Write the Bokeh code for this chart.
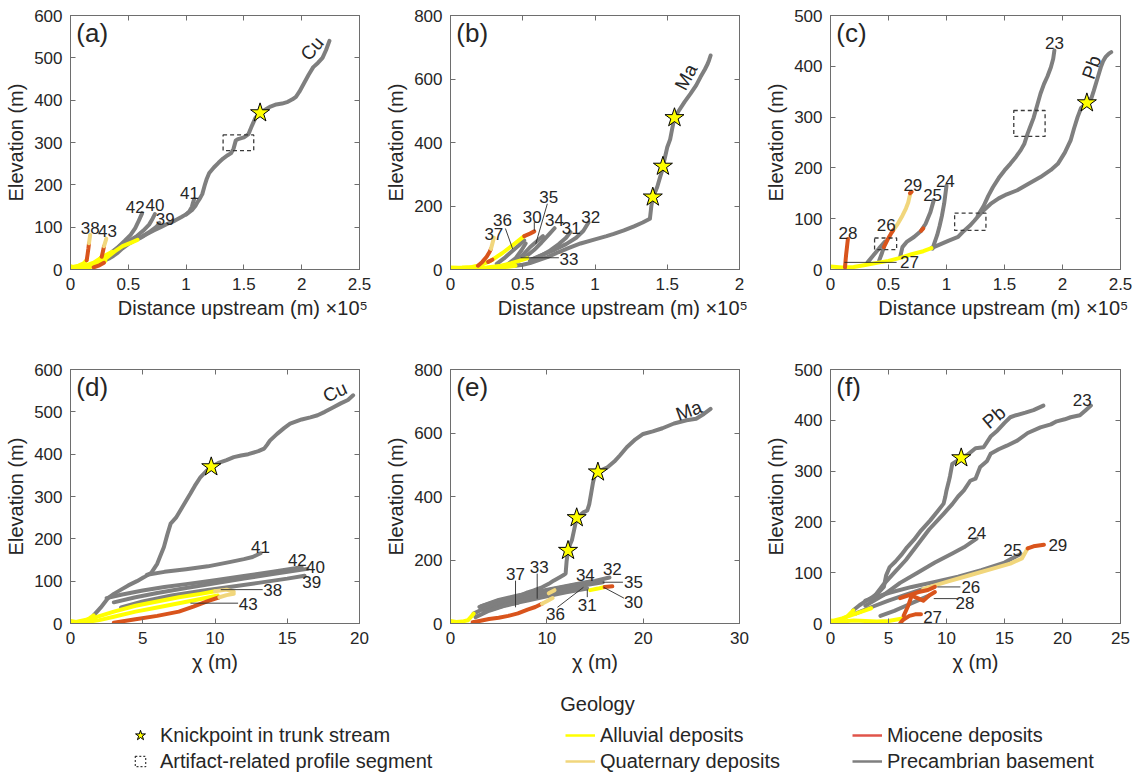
from bokeh.plotting import figure
from bokeh.layouts import column, row
from bokeh.models import (Range1d, LinearAxis, FixedTicker, Label, Legend, LegendItem,
                          CustomJSTickFormatter, ColumnDataSource)
from bokeh.embed import file_html
from bokeh.resources import INLINE

FONT = "Liberation Sans"
C_PRE = "#7f7f7f"
C_ALLU = "#ffff00"
C_QUAT = "#f1d67c"
C_MIO = "#d9541c"
AXC = "#6e6e6e"
TXT = "#262626"

# ---------------- Panel (a): distance (x 1e5 m) ----------------
A_CU_X = [0.30,0.34,0.37,0.41,0.45,0.50,0.55,0.60,0.65,0.72,0.78,0.84,0.90,0.96,1.01,1.05,1.08,1.10,1.12,1.14,1.16,1.18,1.20,1.24,1.28,1.32,1.36,1.39,1.41,1.43,1.45,1.50,1.54,1.57,1.60,1.64,1.68,1.73,1.78,1.83,1.88,1.92,1.95,1.98,2.02,2.06,2.10,2.14,2.18,2.21,2.24]
A_CU_Y = [22,27,32,40,50,60,68,74,82,92,100,108,115,124,132,140,150,160,168,178,198,215,228,241,252,262,270,275,285,305,308,312,320,340,358,370,377,385,390,392,396,402,408,420,440,460,478,488,500,518,540]
A_CU_AL_X = [0.00,0.04,0.08,0.13,0.18,0.23,0.27,0.30]
A_CU_AL_Y = [8,4,3,4,8,12,17,22]
A_42_X = [0.36,0.42,0.47,0.52,0.56,0.59,0.62]
A_42_Y = [42,55,68,82,98,115,133]
A_40_X = [0.42,0.50,0.57,0.63,0.68,0.71,0.73]
A_40_Y = [55,67,78,92,106,120,131]
A_39_X = [0.45,0.54,0.62,0.69,0.74,0.77]
A_39_Y = [58,68,78,90,100,110]
A_41_X = [1.00,1.03,1.05,1.06,1.07]
A_41_Y = [130,138,148,158,166]
A_38_AL_X = [0.02,0.07,0.11,0.14]
A_38_AL_Y = [6,9,14,22]
A_38_MI_X = [0.14,0.148,0.155,0.16]
A_38_MI_Y = [22,36,50,62]
A_38_QU_X = [0.16,0.165,0.17]
A_38_QU_Y = [62,72,82]
A_43_AL_X = [0.10,0.17,0.23,0.27]
A_43_AL_Y = [3,8,18,30]
A_43_MI_X = [0.27,0.28,0.29]
A_43_MI_Y = [30,42,55]
A_43_QU_X = [0.29,0.30,0.31]
A_43_QU_Y = [55,64,73]
A_T1_AL_X = [0.00,0.10,0.20,0.28,0.36]
A_T1_AL_Y = [3,6,16,30,42]
A_T2_AL_X = [0.12,0.22,0.30,0.38,0.45,0.52,0.58]
A_T2_AL_Y = [2,10,25,42,55,63,70]
A_T3_AL_X = [0.05,0.15,0.22,0.30]
A_T3_AL_Y = [2,5,12,20]
A_T4_MI_X = [0.20,0.25,0.29]
A_T4_MI_Y = [5,10,16]
A_STAR_X = [1.64]
A_STAR_Y = [370]
A_BOX_L = [1.32]; A_BOX_R = [1.585]; A_BOX_B = [281]; A_BOX_T = [318]
A_LAB = ["41", "42", "40", "39", "38", "43"]
A_LAB_X = [1.03, 0.56, 0.73, 0.82, 0.17, 0.32]
A_LAB_Y = [180, 147, 153, 120, 98, 92]

# ---------------- Panel (b) ----------------
B_MA_X = [0.45,0.50,0.55,0.60,0.67,0.75,0.82,0.90,1.00,1.08,1.13,1.20,1.27,1.33,1.38,1.39,1.40,1.42,1.43,1.45,1.465,1.47,1.48,1.50,1.52,1.535,1.55,1.58,1.62,1.66,1.70,1.73,1.76,1.78,1.79,1.80]
B_MA_Y = [12,15,20,28,39,55,68,82,95,105,112,123,136,148,160,200,228,248,259,290,312,325,345,385,410,445,478,500,528,553,580,606,630,648,660,674]
B_MA_AL_X = [0.00,0.08,0.16,0.25,0.33,0.40,0.45]
B_MA_AL_Y = [6,4,3,4,6,9,12]
B_32_X = [0.55,0.63,0.72,0.80,0.87,0.92,0.955]
B_32_Y = [30,45,62,80,100,122,148]
B_31_X = [0.55,0.62,0.69,0.75,0.80,0.83]
B_31_Y = [28,42,60,80,100,118]
B_34_X = [0.45,0.52,0.58,0.63,0.68,0.72]
B_34_Y = [22,40,62,85,110,130]
B_35_X = [0.44,0.50,0.55,0.60,0.64]
B_35_Y = [20,45,70,90,105]
B_33_X = [0.40,0.45,0.49,0.52]
B_33_Y = [18,35,60,82]
B_36_X = [0.32,0.37,0.42,0.47,0.51]
B_36_Y = [18,35,55,75,92]
B_30_AL_X = [0.12,0.20,0.28,0.36,0.44,0.51]
B_30_AL_Y = [4,12,28,52,80,105]
B_30_MI_X = [0.51,0.55,0.58]
B_30_MI_Y = [105,113,120]
B_30_MI2_X = [0.26,0.29]
B_30_MI2_Y = [24,31]
B_37_AL_X = [0.00,0.08,0.15,0.19]
B_37_AL_Y = [5,6,8,12]
B_37_MI_X = [0.19,0.22,0.25,0.27,0.28]
B_37_MI_Y = [12,24,40,55,65]
B_37_QU_X = [0.28,0.29,0.30]
B_37_QU_Y = [65,82,100]
B_LO_AL_X = [0.15,0.25,0.35,0.42,0.48,0.53]
B_LO_AL_Y = [3,6,12,20,28,35]
B_STAR_X = [1.40, 1.47, 1.55]
B_STAR_Y = [228, 325, 478]
B_LEAD_X = [[0.38, 0.43], [0.67, 0.59], [0.58, 0.58], [0.485, 0.75]]
B_LEAD_Y = [[129, 65], [207, 81], [149, 122], [37, 37]]
B_LAB = ["35", "36", "30", "34", "31", "32", "37", "33"]
B_LAB_X = [0.68, 0.36, 0.565, 0.72, 0.835, 0.97, 0.30, 0.82]
B_LAB_Y = [228, 155, 165, 156, 131, 165, 112, 34]

# ---------------- Panel (c) ----------------
C_PB_X = [0.87,0.95,1.02,1.10,1.15,1.20,1.24,1.30,1.38,1.45,1.52,1.61,1.70,1.81,1.90,1.96,2.02,2.07,2.10,2.13,2.16,2.21,2.25,2.27,2.30,2.33,2.35,2.37,2.40,2.42]
C_PB_Y = [42,50,57,64,76,86,96,112,129,140,148,156,168,182,196,208,230,254,278,300,318,328,338,352,375,398,410,418,425,428]
C_PB_AL_X = [0.00,0.10,0.20,0.30,0.40,0.50,0.60,0.70,0.80,0.87]
C_PB_AL_Y = [6,4,5,9,13,17,23,30,36,42]
C_23_X = [1.27,1.32,1.36,1.40,1.45,1.50,1.55,1.60,1.64,1.67,1.70,1.72,1.75,1.78,1.81,1.84,1.87,1.90,1.92,1.93]
C_23_Y = [106,125,145,162,180,195,208,222,235,247,268,280,298,322,346,365,380,398,415,431]
C_24_X = [0.88,0.90,0.92,0.94,0.96,0.98,1.00]
C_24_Y = [41,55,68,85,105,130,165]
C_25_X = [0.60,0.62,0.66,0.72,0.78,0.82,0.86,0.89]
C_25_Y = [24,44,55,64,76,90,112,136]
C_25_MI_X = [0.78,0.80]
C_25_MI_Y = [76,81]
C_26_X = [0.42,0.44,0.46]
C_26_Y = [18,30,44]
C_26_MI_X = [0.46,0.49,0.52,0.54]
C_26_MI_Y = [44,58,70,77]
C_26B_X = [0.32,0.37,0.42,0.47]
C_26B_Y = [14,28,42,55]
C_29_QU_X = [0.54,0.58,0.62,0.65,0.67,0.68,0.69]
C_29_QU_Y = [77,90,106,120,132,142,150]
C_29_MI_X = [0.685,0.70]
C_29_MI_Y = [150,153]
C_28_MI_X = [0.125,0.13,0.135,0.14,0.145,0.15]
C_28_MI_Y = [4,18,30,40,50,60]
C_STAR_X = [2.21]
C_STAR_Y = [328]
C_BOX_L = [1.58, 1.07, 0.38]
C_BOX_R = [1.85, 1.34, 0.57]
C_BOX_B = [262, 77, 39]
C_BOX_T = [313, 111, 62]
C_LEAD_X = [[0.12, 0.57]]
C_LEAD_Y = [[14, 14]]
C_LAB = ["23", "24", "25", "29", "26", "28", "27"]
C_LAB_X = [1.93, 0.99, 0.88, 0.71, 0.48, 0.15, 0.68]
C_LAB_Y = [446, 175, 146, 167, 87, 72, 14]

# ---------------- Panel (d): chi ----------------
D_CU_X = [1.6,2.1,2.6,3.0,3.5,4.0,4.6,5.07,5.6,6.0,6.2,6.46,6.7,6.93,7.3,7.6,8.0,8.3,8.6,9.0,9.4,9.74,10.3,10.8,11.3,11.8,12.3,13.0,13.4,13.6,13.8,14.3,14.8,15.2,16.0,16.6,17.1,17.6,18.2,18.7,19.2,19.56]
D_CU_Y = [19,38,60,70,80,90,100,109,120,141,158,180,210,236,250,267,290,307,325,346,360,370,380,386,393,397,400,407,413,422,432,448,462,472,482,487,492,500,511,520,528,539]
D_CU_AL_X = [0.0,0.5,1.0,1.3,1.6]
D_CU_AL_Y = [6,3,6,12,19]
D_41_X = [5.3,6.5,8.0,9.5,11.0,12.0,12.6,13.15]
D_41_Y = [115,122,128,135,145,152,157,166]
D_42_X = [2.5,3.5,5.0,6.5,8.0,10.0,12.0,14.0,16.0]
D_42_Y = [60,68,78,86,93,102,112,122,133]
D_40_X = [3.0,4.5,6.0,8.0,10.0,12.0,14.0,16.4]
D_40_Y = [50,62,72,84,95,106,117,129]
D_39_X = [3.5,5.0,7.0,9.0,11.0,13.0,15.0,16.2]
D_39_Y = [38,52,66,77,86,96,106,113]
D_38_AL_X = [0.3,1.5,3.0,4.5,6.0,7.5,9.0,10.0]
D_38_AL_Y = [3,12,28,42,52,62,70,76]
D_38_QU_X = [10.0,10.8,11.3]
D_38_QU_Y = [76,80,75]
D_43_MI_X = [3.0,4.5,6.0,7.5,8.5,9.5,10.3]
D_43_MI_Y = [2,10,18,28,40,53,62]
D_43_QU_X = [10.3,10.8,11.3]
D_43_QU_Y = [62,67,70]
D_AL2_X = [1.0,2.0,3.0,4.5,6.0,7.5,9.0,10.2]
D_AL2_Y = [3,8,16,28,38,48,58,66]
D_STAR_X = [9.74]
D_STAR_Y = [370]
D_LEAD_X = [[10.4, 13.3], [8.3, 11.6]]
D_LEAD_Y = [[80, 80], [48, 48]]
D_LAB = ["41", "42", "40", "39", "38", "43"]
D_LAB_X = [13.15, 15.7, 16.95, 16.7, 14.0, 12.3]
D_LAB_Y = [180, 149, 133, 98, 78, 45]

# ---------------- Panel (e) ----------------
E_MA_X = [2.4,3.0,3.8,4.5,5.0,5.8,6.6,7.4,8.0,8.65,9.5,10.2,10.7,11.3,11.7,11.95,12.05,12.2,12.4,12.6,12.8,13.1,13.4,13.8,14.2,14.4,14.6,14.8,15.0,15.3,15.8,16.3,17.0,17.6,18.3,19.2,20.0,21.0,22.0,23.2,24.5,25.5,26.3,27.0]
E_MA_Y = [31,40,51,60,68,75,83,90,98,104,114,125,135,145,152,157,195,230,248,262,290,333,340,350,356,375,410,445,470,477,485,492,510,530,555,580,597,605,615,630,640,645,660,676]
E_MA_AL_X = [0.0,0.6,1.2,1.8,2.1,2.4]
E_MA_AL_Y = [8,5,6,10,20,31]
E_32_X = [3.0,5.0,7.0,9.0,11.0,13.0,15.0,16.5]
E_32_Y = [52,72,86,98,110,122,134,145]
E_34_X = [3.2,5.0,7.0,9.0,11.0,13.0,14.5]
E_34_Y = [55,74,88,100,112,124,132]
E_35_X = [3.5,5.5,8.0,10.5,13.0,15.8]
E_35_Y = [45,68,86,102,116,130]
E_33_X = [3.5,5.5,7.5,9.0,11.0,13.0]
E_33_Y = [38,58,74,82,96,110]
E_31_X = [4.0,6.0,8.0,10.0,12.0,14.2]
E_31_Y = [42,60,72,86,98,110]
E_36_X = [4.5,6.5,8.5,10.5,12.5,14.0]
E_36_Y = [48,66,80,94,106,116]
E_37_X = [2.6,4.0,5.5,7.0]
E_37_Y = [20,40,55,65]
E_RED_X = [2.3,3.0,4.0,5.0,6.0,7.0,8.0,8.8,9.5]
E_RED_Y = [4,8,14,18,24,32,44,52,62]
E_QU_X = [9.5,10.0,10.6]
E_QU_Y = [62,70,80]
E_QU2_X = [10.2,10.8]
E_QU2_Y = [95,105]
E_30_AL_X = [14.5,15.3,16.0]
E_30_AL_Y = [105,110,115]
E_30_MI_X = [16.0,16.8]
E_30_MI_Y = [115,117]
E_STAR_X = [12.2, 13.1, 15.3]
E_STAR_Y = [230, 333, 477]
E_LEAD_X = [[6.75, 6.75], [9.0, 9.0], [15.8, 17.9], [11.1, 13.8], [14.2, 14.2], [15.9, 18.0]]
E_LEAD_Y = [[135, 51], [157, 78], [130, 130], [51, 114], [83, 107], [114, 80]]
E_LAB = ["37", "33", "34", "32", "35", "36", "31", "30"]
E_LAB_X = [6.75, 9.2, 14.0, 16.8, 19.0, 10.9, 14.2, 19.0]
E_LAB_Y = [157, 178, 153, 172, 130, 30, 57, 67]

# ---------------- Panel (f) ----------------
F_PB_X = [1.96,2.5,3.1,3.6,4.1,4.6,4.8,5.1,5.6,6.1,6.6,7.2,7.8,8.6,9.2,9.75,9.9,10.0,10.2,10.3,10.5,10.9,11.27,11.8,12.5,13.2,13.8,14.4,15.0,15.5,16.0,16.8,17.5,18.35]
F_PB_Y = [26,36,45,52,60,72,95,111,122,135,150,165,183,203,220,236,250,262,280,290,314,320,326,332,345,347,368,380,395,406,410,415,420,429]
F_23_X = [3.5,4.5,5.5,6.5,7.5,8.5,9.75,10.5,11.0,11.5,12.05,12.5,12.9,13.5,13.8,14.5,15.2,16.1,17.0,18.1,19.0,19.5,20.2,20.7,21.5,22.0,22.45]
F_23_Y = [45,75,100,125,155,185,216,235,250,262,281,285,308,320,334,343,350,360,375,386,392,398,402,406,410,420,429]
F_PB_AL_X = [0.0,0.5,1.0,1.5,1.96]
F_PB_AL_Y = [6,4,8,15,26]
F_24_X = [3.0,4.5,6.0,7.5,9.0,10.5,11.5,12.6]
F_24_Y = [35,55,80,100,120,138,150,167]
F_25_X = [3.0,5.0,7.0,9.0,11.0,13.0,15.0,16.4]
F_25_Y = [45,60,72,82,92,105,120,137]
F_29_PR_X = [2.2,3.5,5.0,6.5,8.0]
F_29_PR_Y = [20,32,45,57,68]
F_29_QU_X = [8.0,10.0,12.0,14.0,15.5,16.5,17.0]
F_29_QU_Y = [68,82,95,108,118,128,148]
F_29_MI_X = [17.0,17.5,18.4]
F_29_MI_Y = [148,152,155]
F_26_MI_X = [6.0,6.8,7.6,8.4,9.0]
F_26_MI_Y = [50,56,62,66,72]
F_28_MI_X = [6.3,6.7,7.0,7.5,8.0,8.5,9.0]
F_28_MI_Y = [15,35,55,50,45,55,62]
F_27_MI_X = [6.3,6.8,7.3,7.8]
F_27_MI_Y = [8,15,18,18]
F_28_PR_X = [4.3,5.5,6.5,7.5,8.5]
F_28_PR_Y = [15,25,35,45,55]
F_AL2_X = [0.0,1.0,2.0,3.0,4.0,5.0,6.2]
F_AL2_Y = [2,4,6,5,4,5,10]
F_AL3_X = [0.0,1.0,2.0,3.0,3.5]
F_AL3_Y = [4,10,18,26,30]
F_MI0_X = [6.0,6.2]
F_MI0_Y = [0,6]
F_STAR_X = [11.27]
F_STAR_Y = [326]
F_LEAD_X = [[9.2, 11.2], [8.9, 10.9]]
F_LEAD_Y = [[72, 72], [49, 49]]
F_LAB = ["23", "24", "25", "29", "26", "28", "27"]
F_LAB_X = [21.7, 12.6, 15.7, 19.6, 12.1, 11.6, 8.8]
F_LAB_Y = [440, 178, 145, 155, 72, 40, 12]

TICK_FS = "17px"
LAB_FS = "20px"
NB = "\u00a0"


def make_panel(xmax, ymax, xticks, yticks, xlabel, fw, top, bottom, right):
    p = figure(frame_width=fw, frame_height=254,
               x_range=Range1d(0, xmax), y_range=Range1d(0, ymax),
               output_backend="svg", toolbar_location=None,
               min_border_left=70, min_border_right=right,
               min_border_top=top, min_border_bottom=bottom)
    p.xgrid.visible = False
    p.ygrid.visible = False
    p.outline_line_color = AXC
    p.background_fill_color = "white"
    fmt = CustomJSTickFormatter(code="return String(Math.round(tick*100)/100);")
    for ax, ticks in ((p.xaxis[0], xticks), (p.yaxis[0], yticks)):
        ax.ticker = FixedTicker(ticks=ticks)
        ax.formatter = fmt
        ax.major_tick_in = 5
        ax.major_tick_out = 0
        ax.minor_tick_line_color = None
        ax.axis_line_color = AXC
        ax.major_tick_line_color = AXC
        ax.major_label_text_font = FONT
        ax.major_label_text_font_size = TICK_FS
        ax.major_label_text_color = TXT
        ax.major_label_standoff = 8
        ax.axis_label_text_font = FONT
        ax.axis_label_text_font_size = LAB_FS
        ax.axis_label_text_font_style = "normal"
        ax.axis_label_text_color = TXT
        ax.axis_label_standoff = 4
    p.xaxis[0].axis_label = xlabel
    p.yaxis[0].axis_label = "Elevation (m)"
    blank = CustomJSTickFormatter(code="return '';")
    for side, ticks in (("above", xticks), ("right", yticks)):
        ax2 = LinearAxis(ticker=FixedTicker(ticks=ticks), formatter=blank,
                         major_tick_in=5, major_tick_out=0,
                         minor_tick_line_color=None, axis_line_color=AXC,
                         major_tick_line_color=AXC, major_label_standoff=0)
        p.add_layout(ax2, side)
    return p


def draw_line(p, x, y, color):
    p.line(x, y, line_color=color, line_width=4, line_cap="round", line_join="round")


def decorate(p, tag, name, nx, ny, nang, labs, lx, ly, sx, sy, boxes=None, leads=None):
    xmax = p.x_range.end
    ymax = p.y_range.end
    if boxes is not None:
        p.quad(left=boxes[0], right=boxes[1], bottom=boxes[2], top=boxes[3],
               fill_alpha=0, line_color="#3a3a3a", line_dash="4 3", line_width=1.3)
    if leads is not None:
        p.multi_line(xs=leads[0], ys=leads[1], line_color="#2a2a2a", line_width=0.9)
    p.scatter(sx, sy, marker="star", size=20, fill_color="#ffff00", line_color="black", line_width=1)
    src = ColumnDataSource(dict(x=lx, y=ly, t=labs))
    p.text(x="x", y="y", text="t", source=src, text_font={"value": FONT}, text_font_size="17px",
           text_color=TXT, text_align="center", text_baseline="middle")
    p.add_layout(Label(x=nx, y=ny, text=name, angle=nang, angle_units="deg", text_font=FONT,
                       text_font_size="19px", text_color=TXT, text_align="center",
                       text_baseline="middle"))
    p.add_layout(Label(x=0.02 * xmax, y=0.93 * ymax, text=tag, text_font=FONT,
                       text_font_size="26px", text_color=TXT, text_align="left",
                       text_baseline="middle"))


DX = NB * 10 + "Distance upstream (m)" + NB + "\u00d710\u2075"
CHI = "\u03c7 (m)"

# ---- (a)
pa = make_panel(2.5, 600, [0, 0.5, 1, 1.5, 2, 2.5], [0, 100, 200, 300, 400, 500, 600], DX, 289, 15, 71, 21)
for x, y, c in [(A_CU_X, A_CU_Y, C_PRE), (A_42_X, A_42_Y, C_PRE), (A_40_X, A_40_Y, C_PRE),
                (A_39_X, A_39_Y, C_PRE), (A_41_X, A_41_Y, C_PRE),
                (A_CU_AL_X, A_CU_AL_Y, C_ALLU), (A_T1_AL_X, A_T1_AL_Y, C_ALLU),
                (A_T2_AL_X, A_T2_AL_Y, C_ALLU), (A_T3_AL_X, A_T3_AL_Y, C_ALLU),
                (A_38_AL_X, A_38_AL_Y, C_ALLU), (A_43_AL_X, A_43_AL_Y, C_ALLU),
                (A_T4_MI_X, A_T4_MI_Y, C_MIO), (A_38_MI_X, A_38_MI_Y, C_MIO), (A_43_MI_X, A_43_MI_Y, C_MIO),
                (A_38_QU_X, A_38_QU_Y, C_QUAT), (A_43_QU_X, A_43_QU_Y, C_QUAT)]:
    draw_line(pa, x, y, c)
decorate(pa, "(a)", "Cu", 2.09, 522, 50, A_LAB, A_LAB_X, A_LAB_Y, A_STAR_X, A_STAR_Y,
         boxes=(A_BOX_L, A_BOX_R, A_BOX_B, A_BOX_T))

# ---- (b)
pb = make_panel(2, 800, [0, 0.5, 1, 1.5, 2], [0, 200, 400, 600, 800], DX, 289, 15, 71, 21)
for x, y, c in [(B_MA_X, B_MA_Y, C_PRE), (B_32_X, B_32_Y, C_PRE), (B_31_X, B_31_Y, C_PRE),
                (B_34_X, B_34_Y, C_PRE), (B_35_X, B_35_Y, C_PRE), (B_33_X, B_33_Y, C_PRE),
                (B_36_X, B_36_Y, C_PRE),
                (B_MA_AL_X, B_MA_AL_Y, C_ALLU), (B_30_AL_X, B_30_AL_Y, C_ALLU),
                (B_37_AL_X, B_37_AL_Y, C_ALLU), (B_LO_AL_X, B_LO_AL_Y, C_ALLU),
                (B_30_MI_X, B_30_MI_Y, C_MIO), (B_30_MI2_X, B_30_MI2_Y, C_MIO), (B_37_MI_X, B_37_MI_Y, C_MIO),
                (B_37_QU_X, B_37_QU_Y, C_QUAT)]:
    draw_line(pb, x, y, c)
decorate(pb, "(b)", "Ma", 1.63, 606, 62, B_LAB, B_LAB_X, B_LAB_Y, B_STAR_X, B_STAR_Y,
         leads=(B_LEAD_X, B_LEAD_Y))

# ---- (c)
pc = make_panel(2.5, 500, [0, 0.5, 1, 1.5, 2, 2.5], [0, 100, 200, 300, 400, 500], DX, 290, 15, 71, 17)
for x, y, c in [(C_PB_X, C_PB_Y, C_PRE), (C_23_X, C_23_Y, C_PRE), (C_24_X, C_24_Y, C_PRE),
                (C_25_X, C_25_Y, C_PRE), (C_26_X, C_26_Y, C_PRE), (C_26B_X, C_26B_Y, C_PRE),
                (C_PB_AL_X, C_PB_AL_Y, C_ALLU),
                (C_29_QU_X, C_29_QU_Y, C_QUAT),
                (C_25_MI_X, C_25_MI_Y, C_MIO), (C_26_MI_X, C_26_MI_Y, C_MIO),
                (C_29_MI_X, C_29_MI_Y, C_MIO), (C_28_MI_X, C_28_MI_Y, C_MIO)]:
    draw_line(pc, x, y, c)
decorate(pc, "(c)", "Pb", 2.25, 398, 70, C_LAB, C_LAB_X, C_LAB_Y, C_STAR_X, C_STAR_Y,
         boxes=(C_BOX_L, C_BOX_R, C_BOX_B, C_BOX_T), leads=(C_LEAD_X, C_LEAD_Y))

# ---- (d)
pd = make_panel(20, 600, [0, 5, 10, 15, 20], [0, 100, 200, 300, 400, 500, 600], CHI, 289, 29, 55, 21)
for x, y, c in [(D_CU_X, D_CU_Y, C_PRE), (D_41_X, D_41_Y, C_PRE), (D_42_X, D_42_Y, C_PRE),
                (D_40_X, D_40_Y, C_PRE), (D_39_X, D_39_Y, C_PRE),
                (D_CU_AL_X, D_CU_AL_Y, C_ALLU), (D_38_AL_X, D_38_AL_Y, C_ALLU), (D_AL2_X, D_AL2_Y, C_ALLU),
                (D_43_MI_X, D_43_MI_Y, C_MIO),
                (D_38_QU_X, D_38_QU_Y, C_QUAT), (D_43_QU_X, D_43_QU_Y, C_QUAT)]:
    draw_line(pd, x, y, c)
decorate(pd, "(d)", "Cu", 18.3, 547, 25, D_LAB, D_LAB_X, D_LAB_Y, D_STAR_X, D_STAR_Y,
         leads=(D_LEAD_X, D_LEAD_Y))

# ---- (e)
pe = make_panel(30, 800, [0, 10, 20, 30], [0, 200, 400, 600, 800], CHI, 289, 29, 55, 21)
for x, y, c in [(E_MA_X, E_MA_Y, C_PRE), (E_32_X, E_32_Y, C_PRE), (E_34_X, E_34_Y, C_PRE),
                (E_35_X, E_35_Y, C_PRE), (E_33_X, E_33_Y, C_PRE), (E_31_X, E_31_Y, C_PRE),
                (E_36_X, E_36_Y, C_PRE), (E_37_X, E_37_Y, C_PRE),
                (E_MA_AL_X, E_MA_AL_Y, C_ALLU), (E_30_AL_X, E_30_AL_Y, C_ALLU),
                (E_RED_X, E_RED_Y, C_MIO), (E_30_MI_X, E_30_MI_Y, C_MIO),
                (E_QU_X, E_QU_Y, C_QUAT), (E_QU2_X, E_QU2_Y, C_QUAT)]:
    draw_line(pe, x, y, c)
decorate(pe, "(e)", "Ma", 24.75, 671, 20, E_LAB, E_LAB_X, E_LAB_Y, E_STAR_X, E_STAR_Y,
         leads=(E_LEAD_X, E_LEAD_Y))

# ---- (f)
pf = make_panel(25, 500, [0, 5, 10, 15, 20, 25], [0, 100, 200, 300, 400, 500], CHI, 290, 29, 55, 17)
for x, y, c in [(F_PB_X, F_PB_Y, C_PRE), (F_23_X, F_23_Y, C_PRE), (F_24_X, F_24_Y, C_PRE),
                (F_25_X, F_25_Y, C_PRE), (F_29_PR_X, F_29_PR_Y, C_PRE), (F_28_PR_X, F_28_PR_Y, C_PRE),
                (F_PB_AL_X, F_PB_AL_Y, C_ALLU), (F_AL2_X, F_AL2_Y, C_ALLU), (F_AL3_X, F_AL3_Y, C_ALLU),
                (F_29_QU_X, F_29_QU_Y, C_QUAT),
                (F_29_MI_X, F_29_MI_Y, C_MIO), (F_26_MI_X, F_26_MI_Y, C_MIO), (F_28_MI_X, F_28_MI_Y, C_MIO),
                (F_27_MI_X, F_27_MI_Y, C_MIO), (F_MI0_X, F_MI0_Y, C_MIO)]:
    draw_line(pf, x, y, c)
decorate(pf, "(f)", "Pb", 14.1, 406, 40, F_LAB, F_LAB_X, F_LAB_Y, F_STAR_X, F_STAR_Y,
         leads=(F_LEAD_X, F_LEAD_Y))

# ---- legend strip
LEG_LABELS = ["Knickpoint in trunk stream", "Artifact-related profile segment",
              "Alluvial deposits", "Quaternary deposits", "Miocene deposits", "Precambrian basement"]
lf = figure(width=1137, height=98, x_range=Range1d(0, 1), y_range=Range1d(0, 1),
            x_axis_type=None, y_axis_type=None, toolbar_location=None, output_backend="svg",
            min_border=0, outline_line_color=None)
off = dict(x=[-5.0, -6.0], y=[-5.0, -6.0])
r_star = lf.scatter(x="x", y="y", source=ColumnDataSource(off), marker="star", size=14,
                    fill_color="#ffff00", line_color="black", line_width=1)
r_box = lf.scatter(x="x", y="y", source=ColumnDataSource(off), marker="square", size=12,
                   fill_alpha=0, line_color="#3a3a3a", line_dash="2 2", line_width=1.2)
r_lines = [lf.line(x="x", y="y", source=ColumnDataSource(off), line_color=c, line_width=2.5)
           for c in (C_ALLU, C_QUAT, "#e0544a", C_PRE)]
groups = [((r_star, r_box), (LEG_LABELS[0], LEG_LABELS[1]), 125),
          ((r_lines[0], r_lines[1]), (LEG_LABELS[2], LEG_LABELS[3]), 565),
          ((r_lines[2], r_lines[3]), (LEG_LABELS[4], LEG_LABELS[5]), 852)]
for rs, labs, x0 in groups:
    leg = Legend(items=[LegendItem(label=labs[0], renderers=[rs[0]]),
                        LegendItem(label=labs[1], renderers=[rs[1]])],
                 location=(x0, 2), orientation="vertical", glyph_width=30, glyph_height=26,
                 label_height=20, spacing=0, padding=0, margin=0, label_standoff=5,
                 border_line_alpha=0, background_fill_alpha=0,
                 label_text_font=FONT, label_text_font_size="20px", label_text_color=TXT)
    lf.add_layout(leg)
lf.add_layout(Label(x=597, y=73, x_units="screen", y_units="screen", text="Geology",
                    text_font=FONT, text_font_size="20px", text_color=TXT,
                    text_align="center", text_baseline="middle"))

layout = column(row(pa, pb, pc), row(pd, pe, pf), lf, spacing=0)
open("out.html", "w").write(file_html(layout, INLINE))
